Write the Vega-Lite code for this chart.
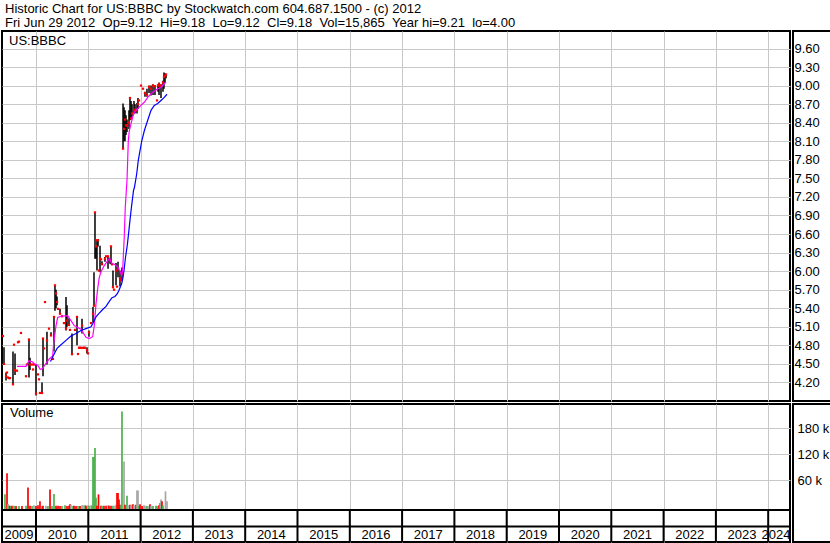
{
  "$schema": "https://vega.github.io/schema/vega-lite/v6.json",
  "background": "white",
  "padding": {"left": 0, "top": 0, "right": 0, "bottom": 0},
  "datasets": {
    "header": [
      {"line": 1, "text": "Historic Chart for US:BBBC by Stockwatch.com 604.687.1500 - (c) 2012"},
      {"line": 2, "text": "Fri Jun 29 2012 \u00a0Op=9.12 \u00a0Hi=9.18 \u00a0Lo=9.12 \u00a0Cl=9.18 \u00a0Vol=15,865 \u00a0Year hi=9.21 \u00a0lo=4.00"}
    ],
    "price": [
      {"t":2009.369,"hi":4.95,"lo":4.95,"cl":4.95},{"t":2009.388,"hi":4.77,"lo":4.50,"cl":4.50},
      {"t":2009.427,"hi":4.36,"lo":4.23,"cl":4.30},{"t":2009.446,"hi":4.36,"lo":4.36,"cl":4.36},
      {"t":2009.465,"hi":4.28,"lo":4.28,"cl":4.28},{"t":2009.484,"hi":4.27,"lo":4.27,"cl":4.27},
      {"t":2009.503,"hi":4.27,"lo":4.27,"cl":4.27},{"t":2009.560,"hi":4.70,"lo":4.17,"cl":4.17},
      {"t":2009.580,"hi":4.81,"lo":4.81,"cl":4.81},{"t":2009.599,"hi":4.67,"lo":4.32,"cl":4.40},
      {"t":2009.637,"hi":4.39,"lo":4.39,"cl":4.39},{"t":2009.656,"hi":4.85,"lo":4.85,"cl":4.85},
      {"t":2009.675,"hi":4.86,"lo":4.86,"cl":4.86},{"t":2009.713,"hi":5.00,"lo":5.00,"cl":5.00},
      {"t":2009.809,"hi":4.30,"lo":4.30,"cl":4.30},{"t":2009.828,"hi":4.49,"lo":4.49,"cl":4.49},
      {"t":2009.866,"hi":4.91,"lo":4.28,"cl":4.89},{"t":2009.885,"hi":4.60,"lo":4.40,"cl":4.49},
      {"t":2009.924,"hi":4.49,"lo":4.49,"cl":4.49},{"t":2009.943,"hi":4.41,"lo":4.41,"cl":4.41},
      {"t":2009.962,"hi":4.49,"lo":4.49,"cl":4.49},{"t":2010.000,"hi":4.49,"lo":3.99,"cl":4.02},
      {"t":2010.038,"hi":4.33,"lo":4.33,"cl":4.33},{"t":2010.057,"hi":4.25,"lo":4.25,"cl":4.25},
      {"t":2010.076,"hi":4.03,"lo":4.03,"cl":4.03},{"t":2010.115,"hi":4.20,"lo":4.02,"cl":4.03},
      {"t":2010.134,"hi":4.91,"lo":4.30,"cl":4.91},{"t":2010.153,"hi":4.75,"lo":4.75,"cl":4.75},
      {"t":2010.172,"hi":5.50,"lo":5.50,"cl":5.50},{"t":2010.210,"hi":5.02,"lo":4.49,"cl":4.88},
      {"t":2010.249,"hi":5.07,"lo":5.07,"cl":5.07},{"t":2010.287,"hi":5.01,"lo":4.96,"cl":4.96},
      {"t":2010.325,"hi":4.58,"lo":4.58,"cl":4.58},{"t":2010.344,"hi":5.26,"lo":4.70,"cl":5.26},
      {"t":2010.363,"hi":5.77,"lo":5.36,"cl":5.77},{"t":2010.383,"hi":5.70,"lo":5.40,"cl":5.64},
      {"t":2010.402,"hi":5.59,"lo":5.45,"cl":5.50},{"t":2010.421,"hi":5.39,"lo":5.39,"cl":5.39},
      {"t":2010.459,"hi":5.39,"lo":5.31,"cl":5.31},{"t":2010.497,"hi":5.27,"lo":5.27,"cl":5.27},
      {"t":2010.535,"hi":5.16,"lo":5.16,"cl":5.16},{"t":2010.574,"hi":5.58,"lo":5.04,"cl":5.07},
      {"t":2010.593,"hi":5.45,"lo":5.10,"cl":5.20},{"t":2010.631,"hi":5.24,"lo":5.13,"cl":5.13},
      {"t":2010.650,"hi":5.05,"lo":5.05,"cl":5.05},{"t":2010.688,"hi":4.99,"lo":4.64,"cl":4.66},
      {"t":2010.746,"hi":5.05,"lo":5.05,"cl":5.05},{"t":2010.784,"hi":5.26,"lo":4.80,"cl":5.26},
      {"t":2010.803,"hi":4.66,"lo":4.66,"cl":4.66},{"t":2010.822,"hi":4.76,"lo":4.76,"cl":4.76},
      {"t":2010.841,"hi":4.76,"lo":4.76,"cl":4.76},{"t":2010.860,"hi":4.76,"lo":4.76,"cl":4.76},
      {"t":2010.880,"hi":5.23,"lo":4.99,"cl":5.12},{"t":2010.899,"hi":4.76,"lo":4.76,"cl":4.76},
      {"t":2010.918,"hi":4.76,"lo":4.76,"cl":4.76},{"t":2010.937,"hi":4.76,"lo":4.76,"cl":4.76},
      {"t":2010.975,"hi":4.77,"lo":4.67,"cl":4.72},{"t":2010.994,"hi":4.67,"lo":4.67,"cl":4.67},
      {"t":2011.013,"hi":5.04,"lo":4.94,"cl":5.01},{"t":2011.052,"hi":5.16,"lo":5.16,"cl":5.16},
      {"t":2011.090,"hi":5.42,"lo":5.17,"cl":5.31},{"t":2011.109,"hi":5.98,"lo":5.44,"cl":5.44},
      {"t":2011.128,"hi":6.95,"lo":6.20,"cl":6.95},{"t":2011.147,"hi":6.40,"lo":6.20,"cl":6.40},
      {"t":2011.166,"hi":6.50,"lo":6.01,"cl":6.50},{"t":2011.186,"hi":6.52,"lo":6.40,"cl":6.50},
      {"t":2011.205,"hi":6.01,"lo":6.01,"cl":6.01},{"t":2011.224,"hi":6.41,"lo":5.98,"cl":6.20},
      {"t":2011.243,"hi":6.19,"lo":6.19,"cl":6.19},{"t":2011.262,"hi":6.16,"lo":6.11,"cl":6.11},
      {"t":2011.319,"hi":6.23,"lo":6.15,"cl":6.20},{"t":2011.339,"hi":6.24,"lo":6.24,"cl":6.24},
      {"t":2011.377,"hi":6.24,"lo":6.04,"cl":6.24},{"t":2011.415,"hi":6.20,"lo":6.12,"cl":6.17},
      {"t":2011.434,"hi":6.40,"lo":6.11,"cl":6.40},{"t":2011.453,"hi":6.11,"lo":6.11,"cl":6.11},
      {"t":2011.472,"hi":6.01,"lo":5.74,"cl":5.74},{"t":2011.492,"hi":5.70,"lo":5.70,"cl":5.70},
      {"t":2011.530,"hi":6.13,"lo":5.77,"cl":6.01},{"t":2011.549,"hi":5.75,"lo":5.75,"cl":5.75},
      {"t":2011.568,"hi":6.15,"lo":5.90,"cl":6.04},{"t":2011.606,"hi":6.01,"lo":5.75,"cl":5.88},
      {"t":2011.625,"hi":5.85,"lo":5.85,"cl":5.85},{"t":2011.644,"hi":6.06,"lo":5.85,"cl":5.96},
      {"t":2011.664,"hi":8.71,"lo":7.98,"cl":7.98},{"t":2011.683,"hi":8.65,"lo":8.10,"cl":8.30},
      {"t":2011.702,"hi":8.60,"lo":8.10,"cl":8.45},{"t":2011.721,"hi":8.52,"lo":8.20,"cl":8.36},
      {"t":2011.740,"hi":8.45,"lo":8.25,"cl":8.35},{"t":2011.778,"hi":8.60,"lo":8.30,"cl":8.40},
      {"t":2011.797,"hi":8.81,"lo":8.44,"cl":8.80},{"t":2011.817,"hi":8.75,"lo":8.45,"cl":8.47},
      {"t":2011.836,"hi":8.70,"lo":8.50,"cl":8.55},{"t":2011.874,"hi":8.75,"lo":8.55,"cl":8.61},
      {"t":2011.893,"hi":8.70,"lo":8.55,"cl":8.60},{"t":2011.931,"hi":8.72,"lo":8.55,"cl":8.60},
      {"t":2011.950,"hi":8.80,"lo":8.62,"cl":8.70},{"t":2011.970,"hi":8.76,"lo":8.76,"cl":8.76},
      {"t":2012.008,"hi":9.00,"lo":9.00,"cl":9.00},{"t":2012.046,"hi":8.95,"lo":8.95,"cl":8.95},
      {"t":2012.084,"hi":8.90,"lo":8.82,"cl":8.88},{"t":2012.122,"hi":8.95,"lo":8.82,"cl":8.85},
      {"t":2012.161,"hi":9.00,"lo":8.88,"cl":8.98},{"t":2012.199,"hi":9.00,"lo":8.84,"cl":8.95},
      {"t":2012.237,"hi":9.02,"lo":8.85,"cl":9.00},{"t":2012.275,"hi":9.00,"lo":8.85,"cl":8.99},
      {"t":2012.314,"hi":8.76,"lo":8.76,"cl":8.76},{"t":2012.333,"hi":9.02,"lo":8.90,"cl":9.00},
      {"t":2012.352,"hi":9.05,"lo":8.85,"cl":9.02},{"t":2012.390,"hi":9.02,"lo":8.80,"cl":9.00},
      {"t":2012.428,"hi":9.08,"lo":8.90,"cl":9.05},{"t":2012.447,"hi":9.21,"lo":8.95,"cl":9.14},
      {"t":2012.467,"hi":9.20,"lo":9.05,"cl":9.16},{"t":2012.486,"hi":9.18,"lo":9.12,"cl":9.18}
    ],
    "maShort": [
      {"t":2009.637,"p":4.46},{"t":2009.809,"p":4.46},{"t":2009.866,"p":4.55},{"t":2009.937,"p":4.53},
      {"t":2009.968,"p":4.50},{"t":2010.033,"p":4.48},{"t":2010.082,"p":4.41},{"t":2010.128,"p":4.43},
      {"t":2010.191,"p":4.51},{"t":2010.254,"p":4.58},{"t":2010.319,"p":4.63},{"t":2010.338,"p":4.83},
      {"t":2010.383,"p":5.12},{"t":2010.415,"p":5.25},{"t":2010.478,"p":5.27},{"t":2010.606,"p":5.28},
      {"t":2010.669,"p":5.20},{"t":2010.732,"p":5.12},{"t":2010.797,"p":5.09},{"t":2010.860,"p":5.06},
      {"t":2010.956,"p":4.93},{"t":2011.019,"p":4.91},{"t":2011.084,"p":4.94},{"t":2011.115,"p":5.12},
      {"t":2011.147,"p":5.47},{"t":2011.180,"p":5.72},{"t":2011.210,"p":5.90},{"t":2011.243,"p":5.99},
      {"t":2011.306,"p":6.09},{"t":2011.371,"p":6.17},{"t":2011.409,"p":6.21},{"t":2011.440,"p":6.13},
      {"t":2011.497,"p":6.11},{"t":2011.562,"p":6.07},{"t":2011.620,"p":5.97},{"t":2011.639,"p":5.93},
      {"t":2011.658,"p":6.03},{"t":2011.669,"p":6.23},{"t":2011.688,"p":6.56},{"t":2011.707,"p":7.03},
      {"t":2011.721,"p":7.22},{"t":2011.740,"p":7.47},{"t":2011.753,"p":7.79},{"t":2011.765,"p":8.11},
      {"t":2011.784,"p":8.27},{"t":2011.817,"p":8.38},{"t":2011.849,"p":8.49},{"t":2011.880,"p":8.57},
      {"t":2011.945,"p":8.63},{"t":2012.008,"p":8.68},{"t":2012.071,"p":8.73},{"t":2012.136,"p":8.81},
      {"t":2012.199,"p":8.87},{"t":2012.262,"p":8.91},{"t":2012.327,"p":8.95},{"t":2012.390,"p":8.97},
      {"t":2012.453,"p":9.03},{"t":2012.486,"p":9.06}
    ],
    "maLong": [
      {"t":2010.277,"p":4.54},{"t":2010.335,"p":4.64},{"t":2010.402,"p":4.75},{"t":2010.478,"p":4.81},
      {"t":2010.574,"p":4.88},{"t":2010.669,"p":4.95},{"t":2010.765,"p":4.99},{"t":2010.860,"p":5.04},
      {"t":2010.956,"p":5.07},{"t":2011.052,"p":5.10},{"t":2011.084,"p":5.15},{"t":2011.147,"p":5.26},
      {"t":2011.210,"p":5.32},{"t":2011.275,"p":5.38},{"t":2011.339,"p":5.43},{"t":2011.402,"p":5.51},
      {"t":2011.453,"p":5.57},{"t":2011.511,"p":5.59},{"t":2011.558,"p":5.64},{"t":2011.587,"p":5.69},
      {"t":2011.639,"p":5.80},{"t":2011.664,"p":5.90},{"t":2011.683,"p":6.01},{"t":2011.711,"p":6.22},
      {"t":2011.746,"p":6.42},{"t":2011.773,"p":6.63},{"t":2011.803,"p":6.87},{"t":2011.826,"p":7.04},
      {"t":2011.864,"p":7.30},{"t":2011.884,"p":7.36},{"t":2011.925,"p":7.57},{"t":2011.956,"p":7.79},
      {"t":2011.989,"p":7.95},{"t":2012.021,"p":8.10},{"t":2012.071,"p":8.27},{"t":2012.136,"p":8.44},
      {"t":2012.199,"p":8.60},{"t":2012.262,"p":8.68},{"t":2012.327,"p":8.71},{"t":2012.390,"p":8.76},
      {"t":2012.453,"p":8.81},{"t":2012.505,"p":8.86}
    ],
    "volume": [
      {"t":2009.407,"v":28000,"dir":"up"},{"t":2009.446,"v":77000,"dir":"down"},{"t":2009.465,"v":6000,"dir":"flat"},
      {"t":2009.484,"v":2000,"dir":"up"},{"t":2009.503,"v":2000,"dir":"down"},{"t":2009.522,"v":1000,"dir":"up"},
      {"t":2009.541,"v":2000,"dir":"down"},{"t":2009.580,"v":2000,"dir":"up"},{"t":2009.618,"v":1000,"dir":"down"},
      {"t":2009.675,"v":1000,"dir":"up"},{"t":2009.732,"v":1000,"dir":"down"},{"t":2009.809,"v":2000,"dir":"up"},
      {"t":2009.847,"v":44000,"dir":"down"},{"t":2009.885,"v":2000,"dir":"down"},{"t":2009.924,"v":1000,"dir":"up"},
      {"t":2009.962,"v":3000,"dir":"flat"},{"t":2010.000,"v":1000,"dir":"down"},{"t":2010.038,"v":3000,"dir":"down"},
      {"t":2010.076,"v":12000,"dir":"down"},{"t":2010.115,"v":1000,"dir":"up"},{"t":2010.134,"v":2000,"dir":"down"},
      {"t":2010.191,"v":2000,"dir":"flat"},{"t":2010.229,"v":1000,"dir":"up"},{"t":2010.268,"v":39000,"dir":"down"},
      {"t":2010.306,"v":1000,"dir":"up"},{"t":2010.344,"v":29000,"dir":"up"},{"t":2010.383,"v":2000,"dir":"down"},
      {"t":2010.421,"v":2000,"dir":"down"},{"t":2010.459,"v":1000,"dir":"down"},{"t":2010.497,"v":1000,"dir":"up"},
      {"t":2010.555,"v":3000,"dir":"up"},{"t":2010.593,"v":1000,"dir":"down"},{"t":2010.631,"v":2000,"dir":"down"},
      {"t":2010.650,"v":5000,"dir":"down"},{"t":2010.669,"v":3000,"dir":"flat"},{"t":2010.708,"v":1000,"dir":"up"},
      {"t":2010.727,"v":2000,"dir":"down"},{"t":2010.765,"v":1000,"dir":"down"},{"t":2010.803,"v":1000,"dir":"up"},
      {"t":2010.841,"v":1000,"dir":"down"},{"t":2010.880,"v":3000,"dir":"flat"},{"t":2010.899,"v":3000,"dir":"flat"},
      {"t":2010.937,"v":3000,"dir":"up"},{"t":2010.956,"v":2000,"dir":"down"},{"t":2010.994,"v":3000,"dir":"flat"},
      {"t":2011.013,"v":2000,"dir":"up"},{"t":2011.052,"v":3000,"dir":"flat"},{"t":2011.071,"v":2000,"dir":"up"},
      {"t":2011.090,"v":114000,"dir":"up"},{"t":2011.109,"v":114000,"dir":"up"},{"t":2011.128,"v":135000,"dir":"up"},
      {"t":2011.147,"v":20000,"dir":"up"},{"t":2011.166,"v":2000,"dir":"down"},{"t":2011.195,"v":28000,"dir":"down"},
      {"t":2011.243,"v":2000,"dir":"down"},{"t":2011.262,"v":2000,"dir":"up"},{"t":2011.300,"v":2000,"dir":"down"},
      {"t":2011.339,"v":2000,"dir":"down"},{"t":2011.377,"v":3000,"dir":"flat"},{"t":2011.396,"v":2000,"dir":"down"},
      {"t":2011.434,"v":2000,"dir":"down"},{"t":2011.472,"v":2000,"dir":"up"},{"t":2011.511,"v":2000,"dir":"flat"},
      {"t":2011.530,"v":4000,"dir":"flat"},{"t":2011.549,"v":31000,"dir":"down"},{"t":2011.568,"v":31000,"dir":"down"},
      {"t":2011.587,"v":16000,"dir":"down"},{"t":2011.606,"v":4000,"dir":"down"},{"t":2011.625,"v":3000,"dir":"up"},
      {"t":2011.644,"v":219000,"dir":"up"},{"t":2011.683,"v":104000,"dir":"flat"},{"t":2011.702,"v":4000,"dir":"down"},
      {"t":2011.740,"v":25000,"dir":"up"},{"t":2011.759,"v":3000,"dir":"flat"},{"t":2011.797,"v":4000,"dir":"down"},
      {"t":2011.817,"v":3000,"dir":"flat"},{"t":2011.836,"v":4000,"dir":"flat"},{"t":2011.855,"v":5000,"dir":"down"},
      {"t":2011.874,"v":3000,"dir":"flat"},{"t":2011.912,"v":4000,"dir":"down"},{"t":2011.931,"v":37000,"dir":"flat"},
      {"t":2011.950,"v":37000,"dir":"flat"},{"t":2011.970,"v":2000,"dir":"up"},{"t":2011.989,"v":5000,"dir":"down"},
      {"t":2012.027,"v":1000,"dir":"down"},{"t":2012.065,"v":3000,"dir":"flat"},{"t":2012.084,"v":2000,"dir":"flat"},
      {"t":2012.122,"v":1000,"dir":"up"},{"t":2012.161,"v":2000,"dir":"flat"},{"t":2012.180,"v":5000,"dir":"down"},
      {"t":2012.199,"v":1000,"dir":"flat"},{"t":2012.237,"v":1000,"dir":"up"},{"t":2012.294,"v":2000,"dir":"up"},
      {"t":2012.314,"v":1000,"dir":"up"},{"t":2012.352,"v":3000,"dir":"down"},{"t":2012.371,"v":8000,"dir":"up"},
      {"t":2012.390,"v":16000,"dir":"flat"},{"t":2012.409,"v":12000,"dir":"down"},{"t":2012.428,"v":3000,"dir":"up"},
      {"t":2012.476,"v":35000,"dir":"flat"},{"t":2012.505,"v":12000,"dir":"flat"}
    ],
    "years": [
      {"year":"2009","mid":2009.675,"start":null},{"year":"2010","mid":2010.5,"start":2010},{"year":"2011","mid":2011.5,"start":2011},
      {"year":"2012","mid":2012.5,"start":2012},{"year":"2013","mid":2013.5,"start":2013},{"year":"2014","mid":2014.5,"start":2014},
      {"year":"2015","mid":2015.5,"start":2015},{"year":"2016","mid":2016.5,"start":2016},{"year":"2017","mid":2017.5,"start":2017},
      {"year":"2018","mid":2018.5,"start":2018},{"year":"2019","mid":2019.5,"start":2019},{"year":"2020","mid":2020.5,"start":2020},
      {"year":"2021","mid":2021.5,"start":2021},{"year":"2022","mid":2022.5,"start":2022},{"year":"2023","mid":2023.5,"start":2023},
      {"year":"2024","mid":2024.15,"start":2024}
    ]
  },
  "spacing": -2.5,
  "vconcat": [
    {
      "width": 788,
      "height": 29.5,
      "view": {"stroke": null},
      "data": {"name": "header"},
      "mark": {"type": "text", "align": "left", "baseline": "alphabetic", "font": "Liberation Sans", "fontSize": 13, "color": "#000000", "dx": 3},
      "encoding": {
        "x": {"datum": 0, "type": "quantitative", "scale": {"domain": [0, 1], "nice": false, "zero": false}, "axis": null},
        "y": {"field": "line", "type": "quantitative", "scale": {"domain": [0.05, 2.157], "nice": false, "zero": false, "reverse": true}, "axis": null},
        "text": {"field": "text"}
      }
    },
    {
      "spacing": 0,
      "hconcat": [
        {
          "spacing": 1,
          "vconcat": [
            {
              "width": 788,
              "height": 370,
              "layer": [
                {
                  "data": {"name": "price"},
                  "mark": {"type": "rule", "color": "#000000", "strokeWidth": 1.5},
                  "encoding": {
                    "x": {"field": "t", "type": "quantitative", "scale": {"domain": [2009.35, 2024.417], "nice": false, "zero": false, "padding": 0},
                          "axis": {"values": [2010,2011,2012,2013,2014,2015,2016,2017,2018,2019,2020,2021,2022,2023,2024], "tickCount": 40, "labels": false, "ticks": false, "tickSize": 0, "labelPadding": 0, "minExtent": 0, "maxExtent": 0, "domain": false, "grid": true, "title": null}},
                    "y": {"field": "lo", "type": "quantitative", "scale": {"domain": [3.9, 9.883], "nice": false, "zero": false},
                          "axis": {"values": [4.2,4.5,4.8,5.1,5.4,5.7,6.0,6.3,6.6,6.9,7.2,7.5,7.8,8.1,8.4,8.7,9.0,9.3,9.6], "tickCount": 40, "labels": false, "grid": true, "ticks": false, "tickSize": 0, "labelPadding": 0, "minExtent": 0, "maxExtent": 0, "domain": false, "title": null}},
                    "y2": {"field": "hi"}
                  }
                },
                {
                  "data": {"name": "price"},
                  "mark": {"type": "square", "color": "#ff0000", "size": 5, "opacity": 1},
                  "encoding": {
                    "x": {"field": "t", "type": "quantitative"},
                    "y": {"field": "cl", "type": "quantitative"}
                  }
                },
                {
                  "data": {"name": "maShort"},
                  "mark": {"type": "line", "color": "#ff00ff", "strokeWidth": 1.2},
                  "encoding": {
                    "x": {"field": "t", "type": "quantitative"},
                    "y": {"field": "p", "type": "quantitative"}
                  }
                },
                {
                  "data": {"name": "maLong"},
                  "mark": {"type": "line", "color": "#0000ff", "strokeWidth": 1.2},
                  "encoding": {
                    "x": {"field": "t", "type": "quantitative"},
                    "y": {"field": "p", "type": "quantitative"}
                  }
                },
                {
                  "data": {"values": [{}]},
                  "mark": {"type": "text", "align": "left", "baseline": "top", "font": "Liberation Sans", "fontSize": 13, "color": "#000000"},
                  "encoding": {
                    "x": {"datum": 2009.484, "type": "quantitative"},
                    "y": {"datum": 9.826, "type": "quantitative"},
                    "text": {"value": "US:BBBC"}
                  }
                }
              ]
            },
            {
              "width": 788,
              "height": 138,
              "layer": [
                {
                  "data": {"name": "volume"},
                  "mark": {"type": "bar", "width": 1.7},
                  "encoding": {
                    "x": {"field": "t", "type": "quantitative", "scale": {"domain": [2009.35, 2024.417], "nice": false, "zero": false, "padding": 0},
                          "axis": {"values": [2010,2011,2012,2013,2014,2015,2016,2017,2018,2019,2020,2021,2022,2023,2024], "tickCount": 40, "labels": false, "ticks": false, "tickSize": 0, "labelPadding": 0, "minExtent": 0, "maxExtent": 0, "domain": false, "grid": true, "title": null}},
                    "y": {"field": "v", "type": "quantitative", "scale": {"domain": [-81900, 236500], "nice": false, "zero": false, "padding": 0},
                          "axis": {"values": [60000, 120000, 180000], "tickCount": 40, "labels": false, "grid": true, "ticks": false, "tickSize": 0, "labelPadding": 0, "minExtent": 0, "maxExtent": 0, "domain": false, "title": null}},
                    "y2": {"datum": -8100},
                    "color": {"field": "dir", "type": "nominal", "scale": {"domain": ["up", "down", "flat"], "range": ["#4cb14c", "#ff0000", "#a6a6a6"]}, "legend": null}
                  }
                },
                {
                  "data": {"values": [{}]},
                  "mark": {"type": "text", "align": "left", "baseline": "top", "font": "Liberation Sans", "fontSize": 13, "color": "#000000"},
                  "encoding": {
                    "x": {"datum": 2009.503, "type": "quantitative"},
                    "y": {"datum": 230000, "type": "quantitative"},
                    "text": {"value": "Volume"}
                  }
                },
                {
                  "data": {"values": [{}]},
                  "mark": {"type": "rule", "color": "#000000", "strokeWidth": 2},
                  "encoding": {"y": {"datum": -8100, "type": "quantitative"}}
                },
                {
                  "data": {"values": [{}]},
                  "mark": {"type": "rule", "color": "#000000", "strokeWidth": 2},
                  "encoding": {"y": {"datum": -46150, "type": "quantitative"}}
                },
                {
                  "data": {"name": "years"},
                  "mark": {"type": "rule", "color": "#000000", "strokeWidth": 2},
                  "encoding": {
                    "x": {"field": "start", "type": "quantitative"},
                    "y": {"datum": -8100, "type": "quantitative"},
                    "y2": {"datum": -81900}
                  }
                },
                {
                  "data": {"name": "years"},
                  "mark": {"type": "text", "font": "Liberation Sans", "fontSize": 13, "color": "#000000", "baseline": "middle", "align": "center"},
                  "encoding": {
                    "x": {"field": "mid", "type": "quantitative"},
                    "y": {"datum": -64600, "type": "quantitative"},
                    "text": {"field": "year"}
                  }
                }
              ]
            }
          ]
        },
        {
          "spacing": 1,
          "vconcat": [
            {
              "width": 38,
              "height": 370,
              "data": {"values": [{}]},
              "mark": {"type": "point", "opacity": 0},
              "encoding": {
                "y": {"datum": 6, "type": "quantitative", "scale": {"domain": [3.9, 9.883], "nice": false, "zero": false},
                      "axis": {"orient": "right", "offset": -38, "values": [4.2,4.5,4.8,5.1,5.4,5.7,6.0,6.3,6.6,6.9,7.2,7.5,7.8,8.1,8.4,8.7,9.0,9.3,9.6], "tickCount": 40, "format": ".2f", "grid": false, "ticks": false, "tickSize": 0, "domain": false, "labelPadding": 1, "title": null}}
              }
            },
            {
              "width": 38,
              "height": 138,
              "data": {"values": [{}]},
              "mark": {"type": "point", "opacity": 0},
              "encoding": {
                "y": {"datum": 0, "type": "quantitative", "scale": {"domain": [-81900, 236500], "nice": false, "zero": false},
                      "axis": {"orient": "right", "offset": -38, "values": [60000, 120000, 180000], "tickCount": 40, "labelExpr": "format(datum.value/1000, 'd') + ' k'", "grid": false, "ticks": false, "tickSize": 0, "domain": false, "labelPadding": 4, "title": null}}
              }
            }
          ]
        }
      ]
    }
  ],
  "config": {
    "view": {"stroke": "#000000", "strokeWidth": 2},
    "axis": {"gridColor": "#c8c8c8", "gridWidth": 1, "gridOpacity": 1, "labelFont": "Liberation Sans", "labelFontSize": 13, "labelColor": "#000000", "labelOverlap": false, "labelFlush": false},
    "text": {"font": "Liberation Sans"}
  }
}
